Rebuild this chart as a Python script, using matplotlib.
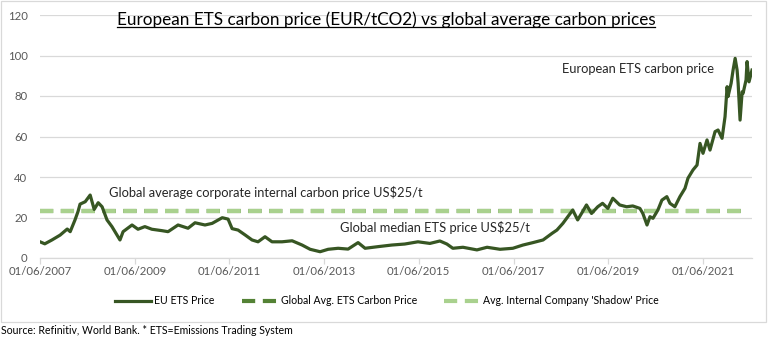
import matplotlib
matplotlib.use("Agg")
import matplotlib.pyplot as plt
from matplotlib.lines import Line2D
from matplotlib.patches import Rectangle
from datetime import datetime

# EU ETS carbon price (EUR/tCO2)
dates = [
    "2007-06-01", "2007-07-08", "2007-09-01", "2007-11-03", "2007-12-28",
    "2008-01-20", "2008-02-26", "2008-03-20", "2008-04-05", "2008-05-15",
    "2008-06-22", "2008-07-23", "2008-08-23", "2008-09-22", "2008-10-30",
    "2008-12-07", "2009-02-07", "2009-03-03", "2009-05-11", "2009-06-26",
    "2009-08-18", "2009-10-11", "2009-12-28", "2010-02-13", "2010-05-01",
    "2010-07-17", "2010-09-09", "2010-11-25", "2011-01-19", "2011-04-07",
    "2011-05-22", "2011-06-22", "2011-08-07", "2011-09-30", "2011-11-23",
    "2012-01-08", "2012-03-02", "2012-04-25", "2012-07-11", "2012-09-27",
    "2012-12-13", "2013-02-13", "2013-05-01", "2013-07-02", "2013-09-17",
    "2013-12-03", "2014-02-18", "2014-04-13", "2014-07-21", "2014-11-05",
    "2015-02-13", "2015-05-26", "2015-08-26", "2015-11-11", "2016-01-04",
    "2016-02-19", "2016-05-07", "2016-08-23", "2016-11-09", "2017-02-17",
    "2017-05-27", "2017-08-13", "2017-10-29", "2018-01-15", "2018-03-26",
    "2018-05-02", "2018-06-17", "2018-07-25", "2018-09-01", "2018-10-09",
    "2018-11-16", "2018-12-16", "2019-01-24", "2019-03-13", "2019-04-19",
    "2019-05-30", "2019-07-07", "2019-08-29", "2019-10-22", "2019-12-08",
    "2020-02-01", "2020-02-24", "2020-03-27", "2020-04-19", "2020-05-12",
    "2020-06-19", "2020-07-20", "2020-08-27", "2020-09-20", "2020-10-28",
    "2020-12-06", "2021-01-14", "2021-02-06", "2021-03-17", "2021-04-17",
    "2021-05-10", "2021-06-02", "2021-07-03", "2021-07-26", "2021-09-03",
    "2021-09-26", "2021-10-27", "2021-11-19", "2021-12-05", "2021-12-12",
    "2022-01-05", "2022-01-20", "2022-02-05", "2022-02-20", "2022-02-28",
    "2022-03-15", "2022-03-31", "2022-04-07", "2022-04-30", "2022-05-08",
    "2022-05-23", "2022-06-15",
]
eu_ets_price = [
    8.0, 7.0, 8.9, 11.3, 14.3,
    13.0, 18.8, 22.9, 26.6, 27.8,
    31.1, 24.0, 27.3, 25.3, 18.8,
    15.5, 8.9, 13.0, 16.3, 14.2,
    15.5, 14.2, 13.5, 13.0, 16.3,
    14.7, 17.4, 16.3, 17.1, 19.9,
    19.2, 14.5, 13.8, 11.4, 8.9,
    8.0, 10.5, 8.0, 8.0, 8.5,
    6.4, 4.3, 3.1, 4.3, 4.8,
    4.4, 7.6, 4.8, 5.6, 6.4,
    6.9, 8.0, 7.2, 8.4, 6.9,
    4.8, 5.3, 4.0, 5.3, 4.3,
    4.8, 6.4, 7.6, 8.9, 12.2,
    13.8, 17.1, 20.4, 23.7, 18.8,
    22.9, 26.2, 22.0, 25.3, 27.0,
    24.5, 29.5, 26.2, 25.3, 25.7,
    24.5, 22.0, 16.3, 20.4, 19.6,
    23.7, 28.6, 30.3, 27.0, 25.3,
    30.3, 34.4, 39.4, 43.5, 45.9,
    56.6, 51.7, 58.3, 53.3, 62.4,
    63.2, 59.1, 69.8, 84.6, 79.7,
    86.3, 92.8, 98.6, 92.8, 86.3,
    68.1, 82.1, 81.3, 87.9, 97.0,
    87.0, 92.8,
]

# Reference levels, drawn across the period they cover
global_avg_ets_price = 23
shadow_price = 23
level_dates = ["2007-06-01", "2022-04-10"]

tick_dates = ["2007-06-01", "2009-06-01", "2011-06-01", "2013-06-01",
              "2015-06-01", "2017-06-01", "2019-06-01", "2021-06-01"]
tick_labels = ["01/06/2007", "01/06/2009", "01/06/2011", "01/06/2013",
               "01/06/2015", "01/06/2017", "01/06/2019", "01/06/2021"]
y_ticks = [0, 20, 40, 60, 80, 100, 120]

series_names = ["EU ETS Price", "Global Avg. ETS Carbon Price",
                "Avg. Internal Company 'Shadow' Price"]

title = "European ETS carbon price (EUR/tCO2) vs global average carbon prices"
source = "Source: Refinitiv, World Bank. * ETS=Emissions Trading System"

DARK = "#375623"
MID = "#548235"
LIGHT = "#A9D18E"
GRID = "#D9D9D9"
TXT = "#595959"

plt.rcParams["font.family"] = ["Lato", "DejaVu Sans"]
plt.rcParams["lines.scale_dashes"] = False

W, H = 772, 341
fig = plt.figure(figsize=(W / 100, H / 100), dpi=100)
ax = fig.add_axes([40 / W, 1 - 258 / H, 712 / W, 243 / H])

to_dt = lambda s: datetime.strptime(s, "%Y-%m-%d")
x = [to_dt(d) for d in dates]
lx = [to_dt(d) for d in level_dates]

dash = (0, (9.5, 5.5))
ax.plot(lx, [global_avg_ets_price] * 2, color=MID, lw=3, linestyle=dash,
        dash_capstyle="butt", zorder=2)
ax.plot(lx, [shadow_price] * 2, color=LIGHT, lw=3, linestyle=dash,
        dash_capstyle="butt", zorder=3)
ax.plot(x, eu_ets_price, color=DARK, lw=2.3, solid_joinstyle="round", zorder=4)

ax.set_xlim(x[0], x[-1])
ax.set_ylim(0, 120)
ax.set_yticks(y_ticks)
ax.set_yticklabels([str(v) for v in y_ticks])
ax.set_xticks([to_dt(d) for d in tick_dates])
ax.set_xticklabels(tick_labels)

ax.grid(axis="y", color=GRID, lw=0.9)
ax.set_axisbelow(True)
for side in ["left", "right", "top"]:
    ax.spines[side].set_visible(False)
ax.spines["bottom"].set_color(GRID)
ax.spines["bottom"].set_linewidth(0.9)
ax.tick_params(axis="y", length=0, pad=9, labelsize=8.2, labelcolor=TXT)
ax.tick_params(axis="x", length=4, width=0.9, color=GRID, pad=2,
               labelsize=8.2, labelcolor=TXT)
ax.set_facecolor("none")

# In-chart annotations
note_kw = dict(fontsize=9.3, color="#262626", va="center", ha="left")
ax.text(datetime(2008, 11, 15), 32.1,
        "Global average corporate internal carbon price US$25/t", **note_kw)
ax.text(datetime(2013, 10, 1), 15.3, "Global median ETS price US$25/t", **note_kw)
ax.text(datetime(2018, 6, 10), 93.3, "European ETS carbon price", **note_kw)

# Title with underline
t = fig.text(386 / W, 1 - 20 / H, title, fontsize=12.3, color="#000000",
             ha="center", va="center")
renderer = fig.canvas.get_renderer()
bb = t.get_window_extent(renderer)
uy = (bb.y0 + 1.0) / H
fig.add_artist(Line2D([bb.x0 / W, bb.x1 / W], [uy, uy],
                      transform=fig.transFigure, color="#000000", lw=0.9))

# Legend
handles = [
    Line2D([], [], color=DARK, lw=2.3),
    Line2D([], [], color=MID, lw=3, linestyle=dash),
    Line2D([], [], color=LIGHT, lw=3, linestyle=dash),
]
fig.legend(handles, series_names, loc="center", bbox_to_anchor=(387 / W, 1 - 301 / H),
           ncol=3, frameon=False, handlelength=3.4,
           handletextpad=0.3, columnspacing=2.6,
           prop={"family": ["Lato"], "size": 7.6})

# Source note
fig.text(1 / W, 1 - 330 / H, source, fontsize=7.6, color="#000000",
         ha="left", va="center")

# Chart frame
fig.add_artist(Rectangle((0.5 / W, 1 - 321.5 / H), 765 / W, 321 / H,
                         transform=fig.transFigure, fill=False,
                         edgecolor=GRID, lw=0.9))

fig.savefig("out.png", dpi=100)
